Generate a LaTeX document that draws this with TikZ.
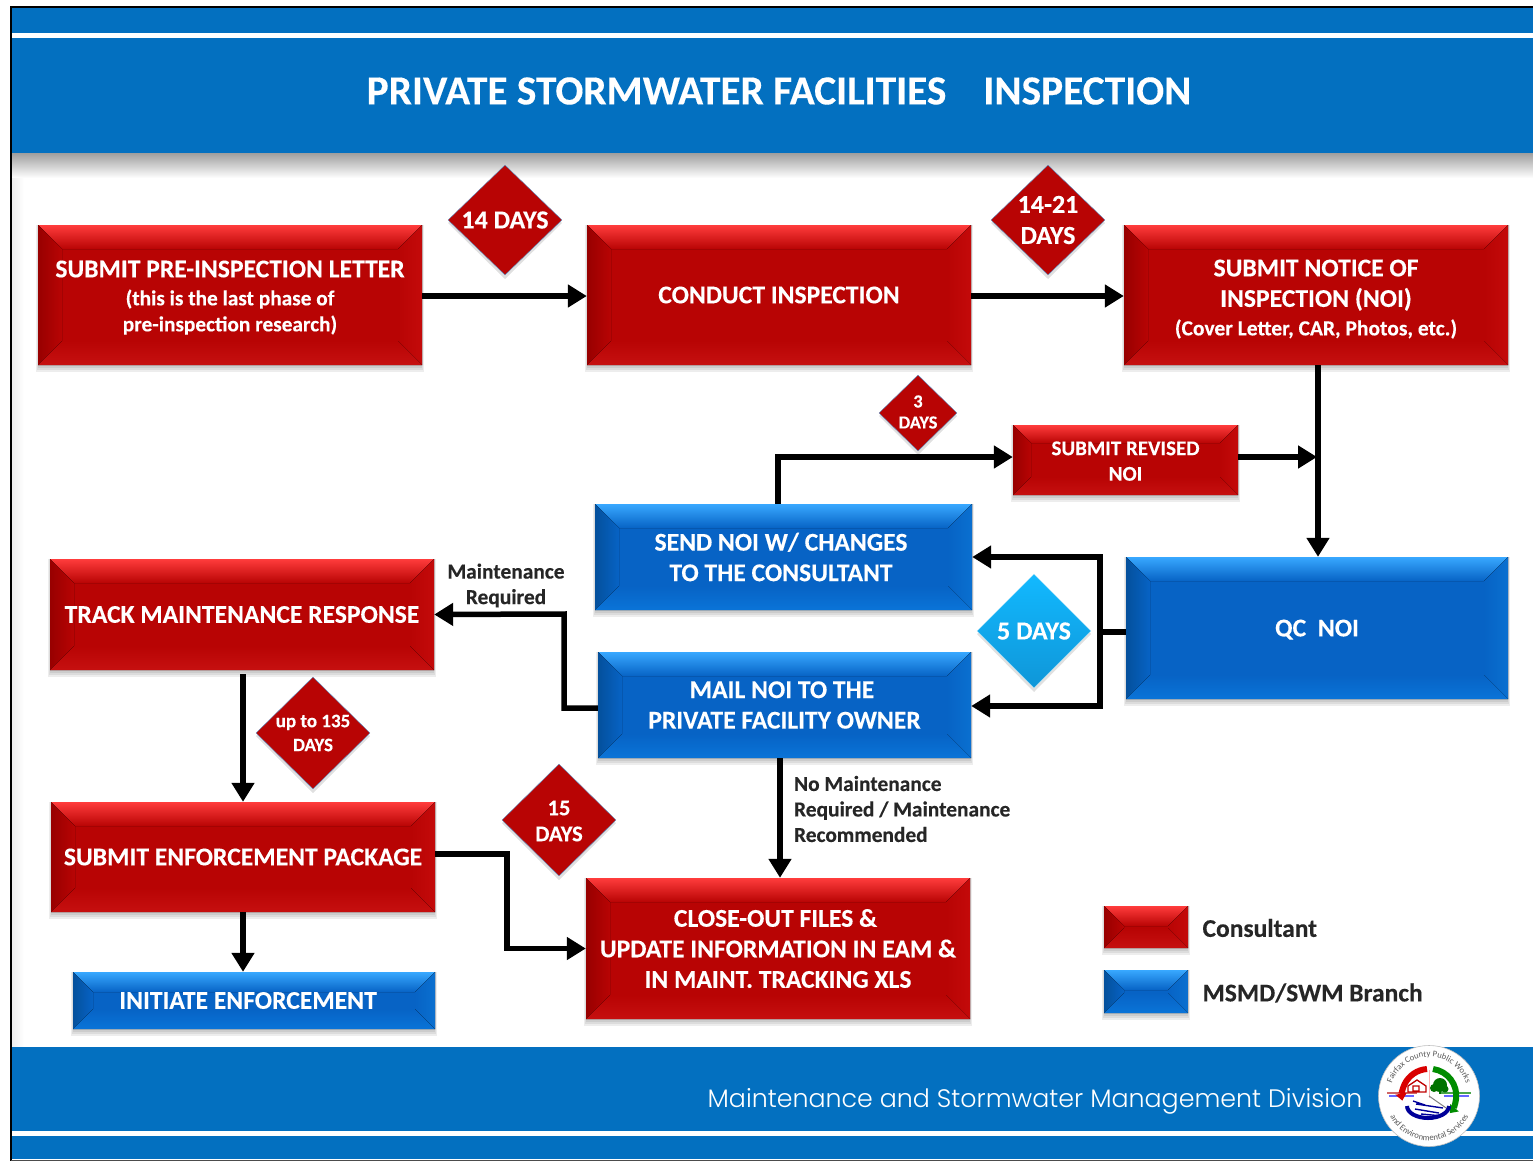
\documentclass[tikz,border=0pt]{standalone}
\usepackage{fontspec}
\setmainfont{Carlito}[BoldFeatures={FakeBold=0.25}]
\newfontfamily\footfont{Poppins}[UprightFont=* Light]
\usetikzlibrary{arrows.meta,shapes.geometric,decorations.text,calc}
\definecolor{hdr}{HTML}{0370C0}
\newcommand\fz[2]{\fontsize{#1}{#2}\selectfont}
\newcommand\lift[1]{\rule{0pt}{#1pt}}
\tikzset{
  boxnode/.style={rectangle,inner sep=0pt,text=white,align=center,font=\bfseries\fz{25.6}{30.5}},
  shad/.style={fill=black,opacity=.07},
  flow/.style={draw=black,line width=5.5pt,-{Triangle[length=19pt,width=22pt]}},
  dmd/.style={diamond,inner sep=0pt,draw=#1},
  dtext/.style={text=white,align=center,font=\bfseries\fz{26}{31}},
  lbl/.style={text=black!85,font=\bfseries\fz{21.4}{25.5},align=center},
  leg/.style={text=black!85,font=\bfseries\fz{25.5}{28},anchor=west},
  band/.style={fill=hdr},
}
\definecolor{rtop}{HTML}{FF3C3C}\definecolor{rbody}{HTML}{B80404}\definecolor{rleft}{HTML}{980000}
\definecolor{rright}{HTML}{C40A0A}\definecolor{rbot}{HTML}{C61010}
\definecolor{btop}{HTML}{38A8FF}\definecolor{bbody}{HTML}{0763C5}\definecolor{bleft}{HTML}{04509C}
\definecolor{bright}{HTML}{0A70D0}\definecolor{bbot}{HTML}{0A74D8}
\definecolor{dfive}{HTML}{12B9FF}\definecolor{dfiveb}{HTML}{0F96D8}
\definecolor{dedge}{HTML}{5C8FC4}
% colour prefix, bevel, name, x1, y1, x2, y2
\newcommand\bevelrect[7]{%
  \fill[shad] ({#4-2},{#5}) rectangle ({#6+2},{#7+7});
  \fill[shad] ({#4-1},{#5}) rectangle ({#6+1},{#7+5});
  \fill[shad] ({#4},{#5}) rectangle ({#6},{#7+3});
  \fill[#1body] (#4,#5) rectangle (#6,#7);
  \fill[top color=#1top,bottom color=#1body] (#4,#5) -- (#6,#5) -- ({#6-#2},{#5+#2}) -- ({#4+#2},{#5+#2}) -- cycle;
  \fill[left color=#1left,right color=#1body] (#4,#5) -- ({#4+#2},{#5+#2}) -- ({#4+#2},{#7-#2}) -- (#4,#7) -- cycle;
  \fill[left color=#1body,right color=#1right] (#6,#5) -- ({#6-#2},{#5+#2}) -- ({#6-#2},{#7-#2}) -- (#6,#7) -- cycle;
  \fill[top color=#1body,bottom color=#1bot] (#4,#7) -- ({#4+#2},{#7-#2}) -- ({#6-#2},{#7-#2}) -- (#6,#7) -- cycle;
}
\newcommand\bx[8]{%
  \bevelrect{#1}{#2}{#3}{#4}{#5}{#6}{#7}%
  \node[boxnode,minimum width={(#6-#4)*1pt},minimum height={(#7-#5)*1pt}] (#3) at ({(#4+#6)/2},{(#5+#7)/2}) {#8};
}
% name, cx, cy, hw, hh, colour options
\newcommand\dm[6]{%
  \fill[shad,opacity=.12] ({#2-#4},{#3+3}) -- ({#2},{#3-#5+3}) -- ({#2+#4},{#3+3}) -- ({#2},{#3+#5+4}) -- cycle;
  \node[#6,minimum width={2*#4*1pt},minimum height={2*#5*1pt}] (#1) at (#2,#3) {};
}
\begin{document}
\begin{tikzpicture}[x=1pt,y=-1pt]
\useasboundingbox (0,0) rectangle (1533,1161);
\fill[white] (0,0) rectangle (1533,1161);
% page furniture
\fill[left color=black!7,right color=white] (11,178) rectangle (24,1047);
\fill[top color=black!38,bottom color=white] (11,153) rectangle (1533,178);
\fill[band] (11,8) rectangle (1533,153);
\fill[white] (11,33) rectangle (1533,38.5);
\fill[band] (11,1047) rectangle (1533,1159);
\fill[white] (11,1131) rectangle (1533,1136);
\draw[black,line width=1.5pt] (11,1161) -- (11,7) -- (1533,7);
\fill[black!70] (11,1159.5) rectangle (1533,1161);
\node[text=white,font=\bfseries\fz{41.3}{41}] (title) at (779,91) {PRIVATE STORMWATER FACILITIES\hspace{37pt}INSPECTION};
\node[text=white,font=\footfont\fz{25.3}{30}] (foot) at (1035,1101.5) {Maintenance and Stormwater Management Division};

% boxes
\bx{r}{24}{pre}{38}{225}{422}{365}{\lift{22}SUBMIT PRE-INSPECTION LETTER\\[-2.5pt]\fz{21.3}{26}(this is the last phase of\\[-4.5pt]\fz{21.3}{26}pre-inspection research)}
\bx{r}{24}{cond}{587}{225}{971}{365}{CONDUCT INSPECTION}
\bx{r}{24}{noi}{1124}{225}{1508}{365}{\lift{25}SUBMIT NOTICE OF\\INSPECTION (NOI)\\[-2pt]\fz{21.5}{26}(Cover Letter, CAR, Photos, etc.)}
\bx{r}{18}{rev}{1013}{425}{1238}{495}{\fz{21}{25}\lift{16}SUBMIT REVISED\\[-5pt]\fz{21}{25}NOI}
\bx{b}{24}{send}{595}{504}{972}{610}{SEND NOI W/ CHANGES\hspace*{5pt}\\TO THE CONSULTANT\hspace*{5pt}}
\bx{b}{24}{qc}{1126}{557}{1508}{699}{\lift{20}QC\hspace{6pt} NOI}
\bx{r}{24}{track}{50}{559}{434}{670}{TRACK MAINTENANCE RESPONSE}
\bx{b}{24}{mail}{598}{652}{971}{758}{MAIL NOI TO THE\hspace*{5pt}\\PRIVATE FACILITY OWNER}
\bx{r}{24}{enf}{51}{802}{435}{912}{SUBMIT ENFORCEMENT PACKAGE}
\bx{r}{24}{close}{586}{878}{970}{1019}{CLOSE-OUT FILES \&\hspace*{5pt}\\UPDATE INFORMATION IN EAM \&\\IN MAINT. TRACKING XLS}
\bx{b}{20}{init}{73}{972}{435}{1029}{INITIATE ENFORCEMENT\hspace*{12pt}}
\bx{r}{20}{legr}{1104}{906}{1188}{948}{}
\bx{b}{20}{legb}{1104}{970}{1188}{1013}{}

% diamonds
\dm{d14}{505}{220}{57}{55}{dmd=dedge,fill=rbody}
\dm{d21}{1048}{220}{57}{55}{dmd=dedge,fill=rbody}
\dm{d3}{918}{413}{39}{38}{dmd=dedge,fill=rbody}
\dm{d5}{1034}{631}{57}{57}{dmd=cyan!30,top color=dfive,bottom color=dfiveb}
\dm{d135}{313}{733}{57}{56}{dmd=dedge,fill=rbody}
\dm{d15}{559}{820}{57}{56}{dmd=dedge,fill=rbody}
\node[dtext] (t14) at (d14) {14 DAYS};
\node[dtext] (t21) at ([yshift=0pt]d21) {14-21\\DAYS};
\node[dtext,font=\bfseries\fz{18.4}{21}] (t3) at ([yshift=1pt]d3) {3\\DAYS};
\node[dtext] (t5) at (d5) {5 DAYS};
\node[dtext,font=\bfseries\fz{19}{24}] (t135) at (d135) {up to 135\\DAYS};
\node[dtext,font=\bfseries\fz{22.5}{26}] (t15) at ([yshift=-1pt]d15) {15\\DAYS};

% connectors
\coordinate (j1) at (1317,457);
\coordinate (hub) at (1100,632);
\coordinate (t1) at (564,614);
\coordinate (t2) at (507,900);
\draw[flow] ([yshift=-1pt]pre.east) -- ([yshift=-1pt]cond.west);
\draw[flow] ([yshift=-1pt]cond.east) -- ([yshift=-1pt]noi.west);
\draw[flow] ([xshift=2pt]noi.south) -- ([xshift=1pt]qc.north);
\draw[flow] ([xshift=-5.5pt]send.north) |- ([yshift=3pt]rev.west);
\draw[flow] ([yshift=3pt]rev.east) -- (j1);
\draw[flow,-] ([yshift=-4pt]qc.west) -- (hub);
\draw[flow] (hub) |- (send.east);
\draw[flow] (hub) |- ([yshift=-1pt]mail.east);
\draw[flow] ([yshift=-3pt]mail.west) -| (t1) -- (track.east);
\draw[flow,shorten <=4pt] (enf.north |- track.south) -- (enf.north);
\draw[flow] (enf.south) -- (enf.south |- init.north);
\draw[flow] ([yshift=3pt]enf.east) -| (t2) |- (close.west);
\draw[flow] ([xshift=-4.5pt]mail.south) -- ([xshift=2pt]close.north);

% labels
\node[lbl] (lm) at (506,585.5) {Maintenance\\Required};
\node[lbl,align=left,anchor=west] (ln) at (790.5,809) {No Maintenance\\Required / Maintenance\\Recommended};
\node[leg] (lc) at (1199,928) {Consultant};
\node[leg] (lb) at (1199,993) {MSMD/SWM Branch};

% logo
\node[circle,fill=white,draw=black!25,line width=.6pt,minimum size=101pt,inner sep=0pt] (logo) at (1429,1096) {};
\begin{scope}[shift={(1429,1096)},x=1pt,y=1pt]
  \draw[red!30,line width=1pt] (0,26) -- (0,-2);
  \draw[black!50,line width=1pt] (0,0) -- (20,-14);
  \draw[red!70!black!60,line width=1.2pt] (-42,3) -- (-12,3);
  \draw[green!50!black!70,line width=1.2pt] (12,3) -- (42,3);
  \draw[blue!60,line width=1.2pt] (-40,0) -- (-15,0) (15,0) -- (40,0);
  \draw[red!85!black,line width=6pt,-{Triangle[length=7pt,width=11pt]}] (-2,27) arc (94:190:27);
  \draw[green!55!black,line width=6pt,-{Triangle[length=7pt,width=11pt]}] (4,27) arc (82:-40:27);
  \draw[blue!60!black,line width=4pt] (-22,-10) arc (180:360:21 and 12);
  \draw[blue!60!black,line width=1.4pt] (-14,-13) -- (10,-17) (-13,-8) -- (14,-12) (-8,-18) -- (14,-20) (-16,-5) -- (-4,-9);
  \draw[red!75!black,line width=1.3pt] (-21,4) -- (-21,10) -- (-12,16) -- (-3,10) -- (-3,4) -- cycle (-16,5) rectangle (-10,10);
  \fill[green!45!black] (11,11) circle (7pt) (5,8) circle (4pt) (16,7) circle (3.5pt);
  \fill[green!45!black] (10,2) rectangle (12,10);
  \path[decorate,decoration={text along path,text align=center,text color=black!65,
    text={|\fz{8.6}{9}|Fairfax County Public Works}}] (-39,3) arc (176:4:39);
  \path[decorate,decoration={text along path,text align=center,text color=black!65,
    text={|\fz{8.6}{9}|and Environmental Services}}] (-43,-8) arc (190:350:44);
\end{scope}
\end{tikzpicture}
\end{document}
